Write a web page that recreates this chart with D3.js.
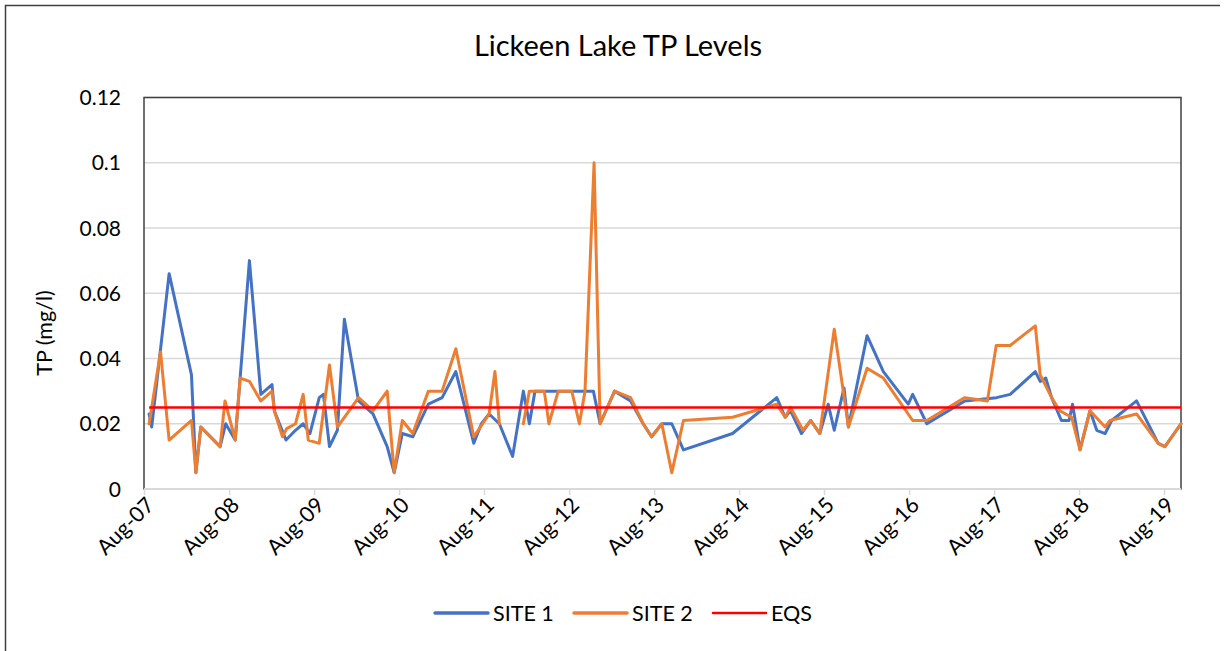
<!DOCTYPE html>
<html>
<head>
<meta charset="utf-8">
<script src="https://cdn.jsdelivr.net/npm/d3@7"></script>
<style>
  body { margin: 0; background: #fff; }
  text { font-family: Lato, "Noto Sans", sans-serif; fill: #000; }
</style>
</head>
<body>
<script>
// SITE 1 samples
var site1Dates = ["2007-08-23","2007-09-03","2007-11-17","2008-02-21","2008-03-11","2008-04-01","2008-06-23","2008-07-17","2008-08-27","2008-10-27",
  "2008-12-15","2009-02-01","2009-02-11","2009-04-02","2009-05-13","2009-06-15","2009-07-14","2009-08-23","2009-09-10","2009-10-06",
  "2009-11-09","2009-12-09","2010-02-08","2010-04-11","2010-06-11","2010-07-11","2010-08-15","2010-09-29","2010-12-05","2011-02-02",
  "2011-04-02","2011-06-18","2011-07-21","2011-08-23","2011-10-06","2011-12-02","2012-01-17","2012-02-12","2012-03-07","2012-04-16",
  "2012-06-15","2012-08-12","2012-10-08","2012-11-13","2012-12-12","2013-02-12","2013-04-22","2013-06-15","2013-07-21","2013-09-03",
  "2013-10-16","2013-12-05","2014-07-04","2015-01-10","2015-02-15","2015-03-10","2015-04-26","2015-06-05","2015-07-14","2015-08-19",
  "2015-09-14","2015-10-26","2015-11-14","2016-02-02","2016-04-12","2016-07-28","2016-08-16","2016-10-16","2017-03-28","2017-08-11",
  "2017-10-09","2018-01-25","2018-02-15","2018-03-11","2018-04-05","2018-05-17","2018-06-19","2018-07-04","2018-08-05","2018-09-17",
  "2018-10-16","2018-11-21","2018-12-19","2019-04-05","2019-07-07","2019-08-05","2019-10-13"];
var site1Values = [0.023,0.019,0.066,0.035,0.005,0.019,0.013,0.020,0.015,0.070,
  0.029,0.032,0.024,0.015,0.018,0.020,0.017,0.028,0.029,0.013,
  0.018,0.052,0.027,0.023,0.013,0.005,0.017,0.016,0.026,0.028,
  0.036,0.014,0.020,0.023,0.020,0.010,0.030,0.020,0.030,0.030,
  0.030,0.030,0.030,0.030,0.020,0.030,0.027,0.020,0.016,0.020,
  0.020,0.012,0.017,0.028,0.022,0.024,0.017,0.021,0.017,0.026,
  0.018,0.031,0.019,0.047,0.036,0.026,0.029,0.020,0.027,0.028,
  0.029,0.036,0.033,0.034,0.028,0.021,0.021,0.026,0.012,0.024,
  0.018,0.017,0.021,0.027,0.014,0.013,0.020];

// SITE 2 samples (null = no sample)
var site2Dates = ["2007-08-23","2007-10-11","2007-11-17","2008-02-21","2008-03-11","2008-04-01","2008-06-23","2008-07-14","2008-08-27","2008-09-17",
  "2008-10-27","2008-12-15","2009-02-01","2009-02-11","2009-03-18","2009-04-05","2009-05-13","2009-06-15","2009-07-07","2009-08-23",
  "2009-10-06","2009-11-09","2010-02-08","2010-04-11","2010-06-11","2010-07-11","2010-08-15","2010-09-29","2010-12-05","2011-02-02",
  "2011-04-02","2011-06-18","2011-08-23","2011-09-17","2011-10-06","2011-12-02","2012-01-17","2012-02-12","2012-04-16","2012-05-06",
  "2012-06-15","2012-08-12","2012-09-14","2012-10-08","2012-11-16","2012-12-12","2013-02-12","2013-04-22","2013-06-15","2013-07-21",
  "2013-09-03","2013-10-16","2013-12-05","2014-07-04","2015-01-10","2015-02-15","2015-03-10","2015-05-03","2015-06-05","2015-07-14",
  "2015-09-14","2015-11-14","2016-02-02","2016-04-12","2016-08-16","2016-10-16","2017-03-28","2017-07-03","2017-08-10","2017-10-09",
  "2018-01-25","2018-02-15","2018-04-05","2018-05-10","2018-06-30","2018-08-05","2018-09-17","2018-11-21","2018-12-12","2019-04-05",
  "2019-07-07","2019-08-05","2019-10-13"];
var site2Values = [0.020,0.042,0.015,0.021,0.005,0.019,0.013,0.027,0.015,0.034,
  0.033,0.027,0.030,0.024,0.016,0.0185,0.020,0.029,0.015,0.014,
  0.038,0.019,0.028,0.024,0.030,0.005,0.021,0.017,0.030,0.030,
  0.043,0.016,0.023,0.036,0.020,null,0.020,0.030,0.030,0.020,
  0.030,0.030,0.020,0.030,0.100,0.020,0.030,0.028,0.020,0.016,
  0.020,0.005,0.021,0.022,0.026,0.022,0.025,0.018,0.021,0.017,
  0.049,0.019,0.037,0.034,0.021,0.021,0.028,0.027,0.044,0.044,
  0.050,0.035,0.028,0.024,0.022,0.012,0.024,0.019,0.021,0.023,
  0.014,0.013,0.020];

var eqsValue = 0.025;
var eqsDates = ["2007-08-23", "2019-10-13"];

var xDomain = ["2007-08-01", "2019-10-13"];
var xTickDates = ["2007-08-01","2008-08-01","2009-08-01","2010-08-01","2011-08-01","2012-08-01","2013-08-01",
  "2014-08-01","2015-08-01","2016-08-01","2017-08-01","2018-08-01","2019-08-01"];
var xTickLabels = ["Aug-07","Aug-08","Aug-09","Aug-10","Aug-11","Aug-12","Aug-13",
  "Aug-14","Aug-15","Aug-16","Aug-17","Aug-18","Aug-19"];
var yTicks = [0, 0.02, 0.04, 0.06, 0.08, 0.1, 0.12];
var yTickLabels = ["0", "0.02", "0.04", "0.06", "0.08", "0.1", "0.12"];

var seriesNames = ["SITE 1", "SITE 2", "EQS"];
var seriesColors = ["#4472C4", "#ED7D31", "#FF0000"];

function draw_chart() {
  var W = 1229, H = 651;
  var pLeft = 144, pRight = 1181, pTop = 97.5, pBottom = 489;
  var parse = d3.timeParse("%Y-%m-%d");

  var svg = d3.select("body").append("svg")
    .attr("width", W)
    .attr("height", H);

  svg.append("rect").attr("width", W).attr("height", H).attr("fill", "#fff");

  // outer chart border
  svg.append("path")
    .attr("d", "M5.5,651 L5.5,5.5 L1220,5.5")
    .attr("fill", "none")
    .attr("stroke", "#404040")
    .attr("stroke-width", 1.5);

  var x = d3.scaleTime()
    .domain(xDomain.map(parse))
    .range([pLeft, pRight]);

  var y = d3.scaleLinear()
    .domain([0, 0.12])
    .range([pBottom, pTop]);

  // gridlines
  svg.append("g")
    .selectAll("line")
    .data(yTicks.slice(1))
    .enter().append("line")
      .attr("x1", pLeft)
      .attr("x2", pRight)
      .attr("y1", function(d) { return y(d); })
      .attr("y2", function(d) { return y(d); })
      .attr("stroke", "#D9D9D9")
      .attr("stroke-width", 1.5);

  // plot area border
  svg.append("rect")
    .attr("x", pLeft)
    .attr("y", pTop)
    .attr("width", pRight - pLeft)
    .attr("height", pBottom - pTop)
    .attr("fill", "none")
    .attr("stroke", "#404040")
    .attr("stroke-width", 1.5);

  // y labels
  svg.append("g")
    .selectAll("text")
    .data(yTicks)
    .enter().append("text")
      .attr("x", 121)
      .attr("y", function(d) { return y(d); })
      .attr("dy", "0.36em")
      .attr("text-anchor", "end")
      .attr("font-size", 21)
      .text(function(d, i) { return yTickLabels[i]; });

  // x axis
  var xAxis = svg.append("g")
    .attr("transform", "translate(0," + pBottom + ")")
    .call(d3.axisBottom(x)
      .tickValues(xTickDates.map(parse))
      .tickSize(6)
      .tickFormat(""));
  xAxis.select(".domain").attr("stroke", "#D9D9D9").attr("stroke-width", 2)
    .attr("d", "M" + pLeft + ",0H" + pRight);
  xAxis.selectAll(".tick line").attr("stroke", "#D9D9D9").attr("stroke-width", 1.5);

  svg.append("g")
    .selectAll("text")
    .data(xTickDates)
    .enter().append("text")
      .attr("transform", function(d) {
        return "translate(" + (x(parse(d)) + 6) + "," + (pBottom + 12) + ") rotate(-45)";
      })
      .attr("text-anchor", "end")
      .attr("dy", "0.36em")
      .attr("font-size", 21.5)
      .text(function(d, i) { return xTickLabels[i]; });

  // lines
  var line = d3.line()
    .defined(function(d) { return d.v !== null; })
    .x(function(d) { return x(d.date); })
    .y(function(d) { return y(d.v); });

  var site1 = site1Dates.map(function(d, i) { return { date: parse(d), v: site1Values[i] }; });
  var site2 = site2Dates.map(function(d, i) { return { date: parse(d), v: site2Values[i] }; });
  var eqs = eqsDates.map(function(d) { return { date: parse(d), v: eqsValue }; });

  [site1, site2].forEach(function(s, i) {
    svg.append("path")
      .datum(s)
      .attr("d", line)
      .attr("fill", "none")
      .attr("stroke", seriesColors[i])
      .attr("stroke-width", 3)
      .attr("stroke-linejoin", "round")
      .attr("stroke-linecap", "round");
  });

  svg.append("path")
    .datum(eqs)
    .attr("d", line)
    .attr("fill", "none")
    .attr("stroke", seriesColors[2])
    .attr("stroke-width", 2.5);

  // title
  svg.append("text")
    .attr("x", 618)
    .attr("y", 56)
    .attr("text-anchor", "middle")
    .attr("font-size", 29)
    .text("Lickeen Lake TP Levels");

  // y title
  svg.append("text")
    .attr("transform", "translate(52,333) rotate(-90)")
    .attr("text-anchor", "middle")
    .attr("font-size", 21.5)
    .text("TP (mg/l)");

  // legend
  var legendX = [435, 574, 713];
  var legend = svg.append("g");
  seriesNames.forEach(function(name, i) {
    legend.append("line")
      .attr("x1", legendX[i])
      .attr("x2", legendX[i] + 53)
      .attr("y1", 613)
      .attr("y2", 613)
      .attr("stroke", seriesColors[i])
      .attr("stroke-width", i === 2 ? 2.5 : 3.5)
      .attr("stroke-linecap", "round");
    legend.append("text")
      .attr("x", legendX[i] + 58)
      .attr("y", 613)
      .attr("dy", "0.36em")
      .attr("font-size", 21.5)
      .text(name);
  });
}

draw_chart();
</script>
</body>
</html>
